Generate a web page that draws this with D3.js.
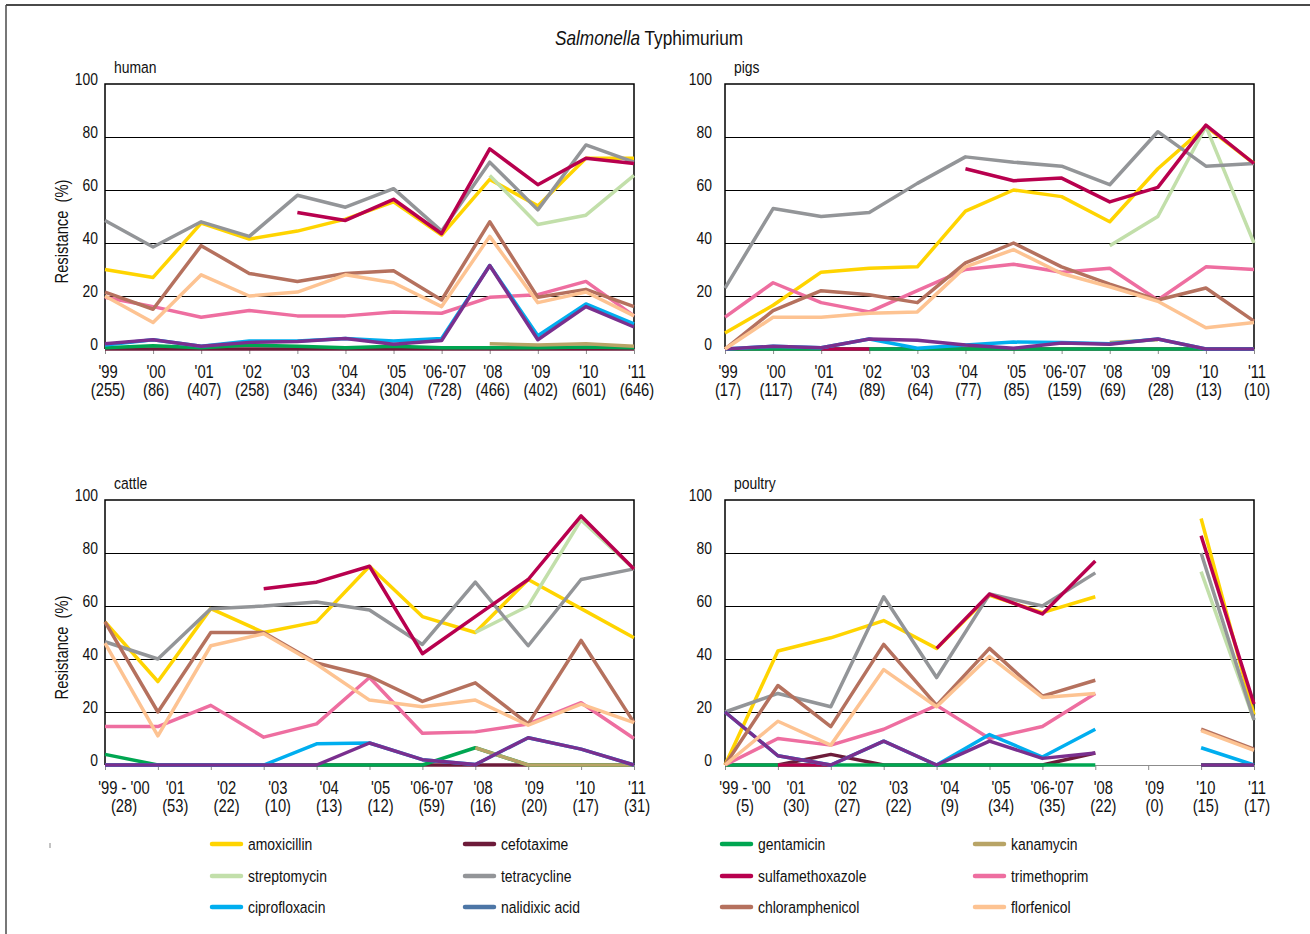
<!DOCTYPE html>
<html><head><meta charset="utf-8">
<script src="https://cdn.jsdelivr.net/npm/d3@7"></script>
<style>
body{margin:0;background:#fff}
svg{display:block;font-family:"Liberation Sans Narrow","Arial Narrow","Liberation Sans",Arial,sans-serif}
</style></head><body><svg id="c" width="1310" height="934"></svg>
<script>
// ---------- DATA ----------
const antibiotics = ["amoxicillin","cefotaxime","gentamicin","kanamycin","streptomycin","tetracycline",
  "sulfamethoxazole","trimethoprim","ciprofloxacin","nalidixic acid","chloramphenicol","florfenicol"];
const yTicks = [0,20,40,60,80,100];

const humanCategories = ["'99","'00","'01","'02","'03","'04","'05","'06-'07","'08","'09","'10","'11"];
const humanIsolates = ["(255)","(86)","(407)","(258)","(346)","(334)","(304)","(728)","(466)","(402)","(601)","(646)"];
const humanAmoxicillin     = [30,27,47.5,41.5,44.5,49,55.5,43,64,54,72,72];
const humanCefotaxime      = [0,0,0,0,0,0,0,0,0,0,0,0];
const humanGentamicin      = [0.5,1.2,0.5,1.5,1,0.5,1,0.5,0.5,0.5,0.8,0.5];
const humanKanamycin       = [null,null,null,null,null,null,null,null,2,1.5,2,1];
const humanStreptomycin    = [null,null,null,null,null,null,null,null,65.5,47,50.5,65.5];
const humanTetracycline    = [48.5,38.5,48,42.5,58,53.5,60.5,44.5,70.5,52.5,77,70.5];
const humanSulfamethoxazole= [null,null,null,null,51.5,48.5,56.5,43.5,75.5,62,72,70];
const humanTrimethoprim    = [19.5,16,12,14.5,12.5,12.5,14,13.5,19.5,20.5,25.5,12.5];
const humanCiprofloxacin   = [1.5,3.5,1,3,3,4,3,4,31.5,5,17,9.5];
const humanNalidixicAcid   = [2,3.5,1,2.5,2.8,4,1.8,3.2,31.5,3.5,16,8.3];
const humanChloramphenicol = [21.5,15,39,28.5,25.5,28.5,29.5,18.5,48,19.5,22.5,16];
const humanFlorfenicol     = [20,10,28,20,21.5,28,25,16,42.5,17.5,21.5,12.5];

const pigsCategories = ["'99","'00","'01","'02","'03","'04","'05","'06-'07","'08","'09","'10","'11"];
const pigsIsolates = ["(17)","(117)","(74)","(89)","(64)","(77)","(85)","(159)","(69)","(28)","(13)","(10)"];
const pigsAmoxicillin     = [6,16.5,29,30.5,31,52,60,57.5,48,68,84,70];
const pigsCefotaxime      = [0,0,0,0,0,0,0,0,0,0,0,0];
const pigsGentamicin      = [0,0,0,0,0,0,0,0,0,0,0,0];
const pigsKanamycin       = [null,null,null,null,null,null,null,null,2.5,3.5,null,null];
const pigsStreptomycin    = [null,null,null,null,null,null,null,null,39,50,84,40];
const pigsTetracycline    = [23,53,50,51.5,62.5,72.5,70.5,69,62,82,69,70];
const pigsSulfamethoxazole= [null,null,0,0,null,68,63.5,64.5,55.5,61,84.5,70];
const pigsTrimethoprim    = [12,25,17.5,14,22,30,32,29,30.5,18.5,31,30];
const pigsCiprofloxacin   = [0,1,0.5,3.8,0.3,1.5,2.6,2.5,2,3.8,0,0];
const pigsNalidixicAcid   = [0,1,0.5,3.8,3.3,1.5,0.3,2.3,1.8,3.8,0,0];
const pigsChloramphenicol = [0,14.5,22,20.5,17.5,32.5,40,31,24.5,18.5,23,10.5];
const pigsFlorfenicol     = [0,12,12,13.5,14,31,37.5,28.5,23.5,18,8,10];

const cattleCategories = ["'99 - '00","'01","'02","'03","'04","'05","'06-'07","'08","'09","'10","'11"];
const cattleIsolates = ["(28)","(53)","(22)","(10)","(13)","(12)","(59)","(16)","(20)","(17)","(31)"];
const cattleAmoxicillin     = [54,31.5,59,50,54,75,56,50,70,59,48];
const cattleCefotaxime      = [0,0,0,0,0,0,0,0,0,0,0];
const cattleGentamicin      = [4,0,0,0,0,0,0,6.5,0,0,0];
const cattleKanamycin       = [null,null,null,null,null,null,null,6.5,0,0,0];
const cattleStreptomycin    = [null,null,null,null,null,null,null,50,60,92.5,74];
const cattleTetracycline    = [46.5,40,59,60,61.5,58.5,45.5,69,45,70,74];
const cattleSulfamethoxazole= [null,null,null,66.5,69,75,42,56,70,94,74];
const cattleTrimethoprim    = [14.5,14.5,22.5,10.5,15.5,33,12,12.5,15.5,23.5,10];
const cattleCiprofloxacin   = [0,0,0,0,8,8.3,2,0.2,10.3,6,0];
const cattleNalidixicAcid   = [0,0,0,0,0,8.3,2,0.2,10.3,6,0];
const cattleChloramphenicol = [54,20,50,50,38.5,33.5,24,31,15.5,47,16];
const cattleFlorfenicol     = [46,11,45,49.5,38,24.5,22,24.5,15,23,16];

const poultryCategories = ["'99 - '00","'01","'02","'03","'04","'05","'06-'07","'08","'09","'10","'11"];
const poultryIsolates = ["(5)","(30)","(27)","(22)","(9)","(34)","(35)","(22)","(0)","(15)","(17)"];
const poultryAmoxicillin     = [0,43,48,54.5,44,64,57.5,63.5,null,93,19];
const poultryCefotaxime      = [0,0,4,0,0,0,0,4.5,null,0,0];
const poultryGentamicin      = [0,0,0,0,0,0,0,0,null,0,0];
const poultryKanamycin       = [null,null,null,null,null,null,null,null,null,null,null];
const poultryStreptomycin    = [null,null,null,null,null,null,null,null,null,73,17];
const poultryTetracycline    = [20,27,22,63.5,33,64.5,60,72.5,null,80,17];
const poultrySulfamethoxazole= [null,0,0,null,44,64.5,57,77,null,86.5,23];
const poultryTrimethoprim    = [0,10,7.5,13.5,22.5,10,14.5,27,null,null,null];
const poultryCiprofloxacin   = [20,3.5,0,9,0,11.5,3,13.5,null,6.5,0];
const poultryNalidixicAcid   = [20,3.5,0,9,0,9,2.5,4.5,null,0,0];
const poultryChloramphenicol = [0,30,14.5,45.5,22.5,44,26,32,null,13.5,6];
const poultryFlorfenicol     = [0,16.5,7.5,36,22,41,25.5,27,null,13,5.5];

// ---------- STYLE ----------
const legendColor = {
  "amoxicillin":"#FFD400","cefotaxime":"#6D1B3A","gentamicin":"#00A651","kanamycin":"#B8A466",
  "streptomycin":"#C2DFAA","tetracycline":"#939598","sulfamethoxazole":"#B8004E","trimethoprim":"#EE6EA0",
  "ciprofloxacin":"#00AEEF","nalidixic acid":"#4D76A6","chloramphenicol":"#B5715E","florfenicol":"#FDC392"};
const plotColor = Object.assign({}, legendColor, {"nalidixic acid":"#7A2F8E"});
const NARROW = 0.82;

const panels = [
  {title:"human", cats:humanCategories, n:humanIsolates,
   series:[humanAmoxicillin,humanCefotaxime,humanGentamicin,humanKanamycin,humanStreptomycin,humanTetracycline,
           humanSulfamethoxazole,humanTrimethoprim,humanCiprofloxacin,humanNalidixicAcid,humanChloramphenicol,humanFlorfenicol],
   left:105,right:634,top:84,bottom:349,lab:[108,637],gap:7,yTitle:true},
  {title:"pigs", cats:pigsCategories, n:pigsIsolates,
   series:[pigsAmoxicillin,pigsCefotaxime,pigsGentamicin,pigsKanamycin,pigsStreptomycin,pigsTetracycline,
           pigsSulfamethoxazole,pigsTrimethoprim,pigsCiprofloxacin,pigsNalidixicAcid,pigsChloramphenicol,pigsFlorfenicol],
   left:725,right:1254,top:84,bottom:349,lab:[728,1257],gap:13,yTitle:false},
  {title:"cattle", cats:cattleCategories, n:cattleIsolates,
   series:[cattleAmoxicillin,cattleCefotaxime,cattleGentamicin,cattleKanamycin,cattleStreptomycin,cattleTetracycline,
           cattleSulfamethoxazole,cattleTrimethoprim,cattleCiprofloxacin,cattleNalidixicAcid,cattleChloramphenicol,cattleFlorfenicol],
   left:105,right:634,top:500,bottom:765,lab:[124,637],gap:7,yTitle:true},
  {title:"poultry", cats:poultryCategories, n:poultryIsolates,
   series:[poultryAmoxicillin,poultryCefotaxime,poultryGentamicin,poultryKanamycin,poultryStreptomycin,poultryTetracycline,
           poultrySulfamethoxazole,poultryTrimethoprim,poultryCiprofloxacin,poultryNalidixicAcid,poultryChloramphenicol,poultryFlorfenicol],
   left:725,right:1254,top:500,bottom:765,lab:[745,1257],gap:13,yTitle:false}
];

const svg = d3.select("#c");
svg.append("rect").attr("width",1310).attr("height",934).attr("fill","#fff");

function ntext(parent, x, y, size, anchor, str, extra) {
  const el = parent.append("text")
    .attr("transform", `translate(${x},${y})${extra||""} scale(${NARROW},1)`)
    .attr("text-anchor", anchor).attr("font-size", size).attr("fill", "#111");
  if (str != null) el.text(str);
  return el;
}

// frame
svg.append("line").attr("x1",6).attr("x2",1310).attr("y1",5).attr("y2",5).attr("stroke","#4a4a4a").attr("stroke-width",2);
svg.append("line").attr("x1",6).attr("x2",6).attr("y1",5).attr("y2",934).attr("stroke","#4a4a4a").attr("stroke-width",1.5);
svg.append("line").attr("x1",50).attr("x2",50).attr("y1",843).attr("y2",848).attr("stroke","#888").attr("stroke-width",1);

// title
const t = ntext(svg, 649, 45, 21, "middle", null);
t.append("tspan").attr("font-style","italic").text("Salmonella");
t.append("tspan").text(" Typhimurium");

panels.forEach(p => {
  const g = svg.append("g");
  const x = d3.scalePoint().domain(p.cats).range([p.left,p.right]);
  const xl = d3.scalePoint().domain(p.cats).range(p.lab);
  const y = d3.scaleLinear().domain([0,100]).range([p.bottom,p.top]);

  // gridlines
  g.append("g").attr("transform",`translate(${p.left},0)`)
    .call(d3.axisLeft(y).tickValues([20,40,60,80]).tickSize(-(p.right-p.left)).tickFormat(""))
    .call(a=>a.select(".domain").remove())
    .call(a=>a.selectAll(".tick line").attr("stroke","#000").attr("stroke-width",1));

  // box (top, left, right)
  g.append("path").attr("d",`M${p.left},${y(0)}V${y(100)}H${p.right}V${y(0)}`)
    .attr("fill","none").attr("stroke","#000").attr("stroke-width",1.5);

  // y labels
  g.append("g").attr("transform",`translate(${p.left-p.gap},0)`)
    .call(d3.axisLeft(y).tickValues(yTicks).tickSize(0).tickPadding(0))
    .call(a=>a.select(".domain").remove())
    .call(a=>a.selectAll("text").attr("x",0).attr("dy","0").attr("font-size",17).attr("fill","#111")
      .attr("font-family",null).attr("transform",`scale(${NARROW},1)`));

  // x axis
  g.append("g").attr("transform",`translate(0,${y(0)})`)
    .call(d3.axisBottom(x).tickSize(5).tickSizeOuter(0).tickFormat(""))
    .call(a=>a.select(".domain").attr("stroke","#8c8c8c").attr("stroke-width",1))
    .call(a=>a.selectAll(".tick line").attr("stroke","#8c8c8c"));

  // x labels
  p.cats.forEach((c,i) => {
    const tx = ntext(g, xl(c), y(0)+29, 18, "middle", null);
    tx.append("tspan").attr("x",0).text(c);
    tx.append("tspan").attr("x",0).attr("dy",18).text(p.n[i]);
  });

  // panel title
  ntext(g, p.left+9, p.top-11, 17, "start", p.title);

  // y title
  if (p.yTitle) {
    const cy = (p.top+p.bottom)/2 + 15;
    ntext(g, 68, cy, 18, "middle", null, " rotate(-90)").style("white-space","pre").text("Resistance  (%)");
  }

  // series
  antibiotics.forEach((ab,k) => {
    const vals = p.series[k];
    const line = d3.line().defined(d=>d!=null).x((d,i)=>x(p.cats[i])).y(d=>y(d));
    g.append("path").datum(vals).attr("d",line).attr("fill","none")
      .attr("stroke",plotColor[ab]).attr("stroke-width",3.5).attr("stroke-linejoin","round");
  });
});

// legend
const legCols = [210,463,720,973], legRows = [844,876,907];
antibiotics.forEach((ab,i) => {
  const cx = legCols[i%4], cy = legRows[Math.floor(i/4)];
  svg.append("line").attr("x1",cx+2).attr("x2",cx+31).attr("y1",cy).attr("y2",cy)
    .attr("stroke",legendColor[ab]).attr("stroke-width",4.5).attr("stroke-linecap","round");
  ntext(svg, cx+38, cy+6, 17, "start", ab);
});
</script></body></html>
